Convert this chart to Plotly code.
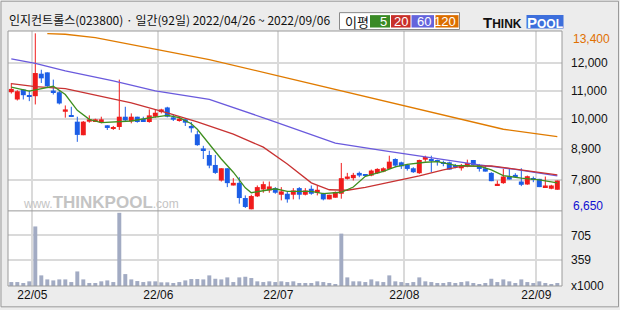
import plotly.graph_objects as go

# ---------------- data ----------------
day_index = list(range(92))
opens = [10948, 10686, 11044, 10829, 10805, 11616, 11664, 11008, 10948, 10244,
         10113, 9886, 9397, 9886, 9910, 9850, 9755, 9624, 9695, 10065,
         9898, 10065, 9994, 9874, 10065, 10232, 10399, 10041, 9910, 9970,
         9731, 9433, 8920, 8683, 8325, 7764, 8206, 7585, 7681, 7132,
         6726, 7192, 7442, 7406, 7490, 7251, 7287, 7251, 7490, 7251,
         7466, 7323, 7287, 7084, 7144, 7287, 7824, 7848, 8039, 7967,
         7943, 8027, 8086, 8182, 8540, 8420, 8325, 8206, 8027, 8516,
         8540, 8480, 8420, 8420, 8325, 8206, 8277, 8504, 8325, 8206,
         8039, 7585, 7669, 7907, 7967, 7728, 7621, 7848, 7824, 7514,
         7467, 7431]
highs = [11282, 11020, 11056, 11008, 13072, 11759, 11664, 11402, 11020, 10471,
         10423, 10065, 9910, 10113, 9994, 10065, 9755, 9731, 11402, 10423,
         10185, 10065, 10065, 10328, 10328, 10352, 10423, 10161, 10065, 9994,
         9874, 9552, 9015, 8838, 8683, 8206, 8206, 7848, 7884, 7227,
         7251, 7585, 7728, 7728, 7526, 7526, 7371, 7490, 7526, 7490,
         7585, 7585, 7323, 7251, 7371, 8397, 8039, 8039, 8086, 7967,
         8158, 8206, 8242, 8659, 8564, 8444, 8361, 8242, 8516, 8659,
         8659, 8516, 8480, 8444, 8361, 8361, 8516, 8504, 8361, 8301,
         8063, 7764, 8182, 8182, 8027, 8206, 7943, 7907, 7824, 7907,
         7610, 7763]
lows = [10900, 10650, 10686, 10626, 10507, 11282, 11139, 10865, 10507, 10030,
        10053, 9159, 9397, 9850, 9874, 9827, 9588, 9588, 9588, 9910,
        9827, 9850, 9874, 9850, 10030, 10185, 10041, 9910, 9886, 9731,
        9493, 9015, 8540, 8206, 8003, 7728, 7526, 7585, 6929, 6774,
        6726, 7168, 7323, 7323, 7287, 7048, 6965, 7084, 7084, 7227,
        7251, 7227, 7048, 7084, 7144, 7108, 7800, 7764, 7884, 7919,
        7919, 8003, 8063, 8182, 8242, 8182, 8122, 8039, 8003, 8444,
        8063, 8301, 8277, 8158, 8206, 8122, 8242, 8301, 8086, 8086,
        7740, 7585, 7645, 7800, 7884, 7561, 7609, 7704, 7526, 7514,
        7450, 7431]
closes = [11067, 10984, 10841, 10793, 11640, 11449, 11163, 10948, 10543, 10328,
          10077, 9409, 9886, 9970, 9970, 9970, 9660, 9684, 10065, 9934,
          10065, 9874, 9874, 10113, 10208, 10328, 10065, 9958, 9994, 9850,
          9648, 9039, 8855, 8301, 8039, 8206, 7669, 7681, 7132, 6810,
          7204, 7526, 7633, 7550, 7323, 7371, 7084, 7406, 7251, 7406,
          7287, 7430, 7084, 7251, 7347, 7848, 7907, 7967, 7943, 7943,
          8122, 8182, 8206, 8444, 8301, 8277, 8182, 8063, 8504, 8611,
          8480, 8444, 8372, 8158, 8242, 8325, 8397, 8325, 8182, 8086,
          7740, 7645, 7907, 7800, 7907, 7609, 7919, 7800, 7526, 7585,
          7585, 7763]
volumes = [55, 55, 42, 65, 830, 148, 92, 78, 92, 92,
           55, 203, 92, 42, 42, 65, 78, 55, 1020, 166,
           92, 69, 55, 65, 65, 51, 51, 42, 55, 78,
           97, 97, 92, 148, 101, 92, 120, 55, 120, 129,
           111, 65, 55, 65, 55, 65, 55, 65, 42, 42,
           42, 65, 55, 42, 28, 730, 120, 65, 65, 55,
           92, 65, 55, 148, 65, 55, 42, 55, 120, 65,
           55, 42, 42, 55, 42, 55, 65, 42, 28, 42,
           101, 55, 92, 65, 42, 92, 55, 42, 65, 42,
           28, 42]

ma5_idx = [0, 3, 7, 9, 11, 13, 15, 20, 23, 26, 28, 30, 31, 33, 35, 37, 39, 40, 42, 44,
           46, 50, 52, 55, 57, 59, 62, 64, 66, 69, 71, 74, 78, 80, 82, 85, 88, 91]
ma5_val = [11134, 10991, 11163, 10866, 10293, 9971, 9853, 9910, 10025, 10114,
           10032, 9810, 9613, 9077, 8540, 8064, 7502, 7324, 7384, 7467,
           7370, 7370, 7288, 7341, 7528, 7914, 8093, 8254, 8343, 8422,
           8443, 8307, 8279, 8146, 7942, 7850, 7789, 7681]
ma20_idx = [0, 4, 9, 15, 20, 26, 31, 37, 42, 46, 50, 53, 56, 59, 64, 68, 72, 75, 80, 84, 91]
ma20_val = [11259, 11152, 11080, 10794, 10562, 10204, 9882, 9435, 8969, 8361,
            7681, 7431, 7413, 7520, 7735, 7932, 8146, 8272, 8290, 8182, 7968]
ma60_idx = [0, 4, 9, 17, 24, 33, 43, 54, 62, 70, 78, 84, 91]
ma60_val = [12154, 11989, 11717, 11360, 10998, 10687, 9953, 9113, 8844, 8576, 8325, 8164, 7932]
ma120_idx = [6, 9, 14, 21, 33, 45, 55, 65, 75, 82, 91]
ma120_val = [13063, 13038, 12920, 12637, 12125, 11510, 10995, 10479, 9971, 9613, 9345]

month_ticks = [3.5, 24.5, 44.5, 65.5, 87.5]
month_labels = ["22/05", "22/06", "22/07", "22/08", "22/09"]
price_ticks = [12000, 11000, 10000, 8900, 7800]
price_labels = ["12,000", "11,000", "10,000", "8,900", "7,800"]
vol_ticks = [0, 359, 705]
vol_labels = ["x1000", "359", "705"]
price_max_label = "13,400"
price_min_label = "6,650"
title_text = "인지컨트롤스(023800) · 일간(92일) 2022/04/26 ~ 2022/09/06"
legend_title = "이평"
legend_items = ["5", "20", "60", "120"]

# ---------------- styles ----------------
W, H = 620, 310
ML, MR, MT, MB = 8, 58, 31, 22
PW, PH = W - ML - MR, H - MT - MB
VOL_TOP = 0.2946

UP = "#f01c1c"
DOWN = "#1c5ee6"
MA_COLORS = ["#3f8f1f", "#c83232", "#6a5add", "#e07b00"]
LEG_COLORS = ["#3a8a26", "#c8302a", "#6464dc", "#dc6e00"]
GRID = "#dadada"
FONT_NUM = "Liberation Sans"
FONT_KR = "Noto Sans CJK KR"


def px(xp):
    return (xp - ML) / PW


def py(yp):
    return (H - MB - yp) / PH


up_i = [i for i in day_index if closes[i] >= opens[i]]
dn_i = [i for i in day_index if closes[i] < opens[i]]

fig = go.Figure()


def add_candles(idx, color):
    fig.add_trace(go.Bar(
        x=idx,
        base=[min(opens[i], closes[i]) for i in idx],
        y=[max(abs(closes[i] - opens[i]), 30) for i in idx],
        width=0.83, marker=dict(color=color, line=dict(width=0)),
        yaxis="y", xaxis="x", hoverinfo="skip", showlegend=False))
    wx, wy = [], []
    for i in idx:
        wx += [i, i, None]
        wy += [lows[i], highs[i], None]
    fig.add_trace(go.Scatter(x=wx, y=wy, mode="lines",
                             line=dict(color=color, width=1),
                             yaxis="y", xaxis="x", hoverinfo="skip", showlegend=False))


add_candles(up_i, UP)
add_candles(dn_i, DOWN)

for (ix, vv), col in zip([(ma120_idx, ma120_val), (ma60_idx, ma60_val),
                          (ma20_idx, ma20_val), (ma5_idx, ma5_val)],
                         [MA_COLORS[3], MA_COLORS[2], MA_COLORS[1], MA_COLORS[0]]):
    fig.add_trace(go.Scatter(x=ix, y=vv, mode="lines",
                             line=dict(color=col, width=1.3),
                             yaxis="y", xaxis="x", hoverinfo="skip", showlegend=False))

fig.add_trace(go.Bar(x=day_index, y=volumes, width=0.66,
                     marker=dict(color="#a2abc3", line=dict(width=0)),
                     yaxis="y2", xaxis="x", hoverinfo="skip", showlegend=False))

shapes = [
    # outer frame
    dict(type="rect", xref="paper", yref="paper", x0=px(1), x1=px(618.5), y0=py(309), y1=py(1),
         line=dict(color="#9a9a9a", width=1)),
    # plot border
    dict(type="rect", xref="paper", yref="paper", x0=0, x1=1, y0=0, y1=1,
         line=dict(color="#9a9a9a", width=1)),
    dict(type="line", xref="paper", yref="paper", x0=0, x1=1, y0=VOL_TOP, y1=VOL_TOP,
         line=dict(color="#9a9a9a", width=1)),
    # legend box
    dict(type="rect", xref="paper", yref="paper", x0=px(339.5), x1=px(459.5), y0=py(29.5), y1=py(12.5),
         line=dict(color="#8a8a8a", width=1), fillcolor="white"),
]
leg_x = [(370, 390), (391, 410.5), (411.5, 434), (435.5, 458.5)]
annotations = []
for (a, b), c, t in zip(leg_x, LEG_COLORS, legend_items):
    shapes.append(dict(type="rect", xref="paper", yref="paper", x0=px(a), x1=px(b),
                       y0=py(27.5), y1=py(15), line=dict(width=0), fillcolor=c))
    annotations.append(dict(xref="paper", yref="paper", x=px(b - 1), y=py(21.5),
                            xanchor="right", yanchor="middle", text=t, showarrow=False,
                            font=dict(family=FONT_NUM, size=13, color="white")))
# POOL logo box
shapes.append(dict(type="rect", xref="paper", yref="paper", x0=px(526.5), x1=px(563.5),
                   y0=py(28.5), y1=py(15), line=dict(width=0), fillcolor="#3d6fdc"))

annotations += [
    dict(xref="paper", yref="paper", x=px(7), y=py(19.5), xanchor="left", yanchor="middle",
         text=title_text, showarrow=False, font=dict(family=FONT_KR, size=12, color="#111")),
    dict(xref="paper", yref="paper", x=px(343), y=py(21), xanchor="left", yanchor="middle",
         text=legend_title, showarrow=False, font=dict(family=FONT_KR, size=13, color="#111")),
    dict(xref="paper", yref="paper", x=px(481), y=py(22), xanchor="left", yanchor="middle",
         text="<b>T<span style='font-size:12px'>HINK</span></b>", showarrow=False,
         font=dict(family="Liberation Sans", size=15, color="#111")),
    dict(xref="paper", yref="paper", x=px(545), y=py(22), xanchor="center", yanchor="middle",
         text="<b>P<span style='font-size:12px'>OOL</span></b>", showarrow=False,
         font=dict(family="Liberation Sans", size=15, color="white")),
    dict(xref="paper", yref="paper", x=px(21), y=py(204), xanchor="left", yanchor="middle",
         text="<span style='font-size:12px'>www.</span><b>THINKPOOL</b><span style='font-size:12px'>.com</span>",
         showarrow=False, font=dict(family="Liberation Sans", size=17, color="#c4c4c4")),
    dict(xref="paper", yref="paper", x=px(571), y=py(39), xanchor="left", yanchor="middle",
         text=price_max_label, showarrow=False, font=dict(family=FONT_NUM, size=12, color="#e07000")),
    dict(xref="paper", yref="paper", x=px(571), y=py(207), xanchor="left", yanchor="middle",
         text=price_min_label, showarrow=False, font=dict(family=FONT_NUM, size=12, color="#1010d0")),
]

fig.update_layout(
    width=W, height=H,
    margin=dict(l=ML, r=MR, t=MT, b=MB, pad=0),
    paper_bgcolor="#ececec", plot_bgcolor="white",
    barmode="overlay", showlegend=False,
    xaxis=dict(range=[-0.55, 91.78], tickmode="array", tickvals=month_ticks, ticktext=month_labels,
               showgrid=True, gridcolor=GRID, gridwidth=1.5, zeroline=False, showline=False,
               anchor="y2", ticks="", tickfont=dict(family=FONT_NUM, size=12, color="#111")),
    yaxis=dict(domain=[VOL_TOP, 1], range=[6669, 13156], side="right", anchor="x",
               tickmode="array", tickvals=price_ticks, ticktext=price_labels,
               showgrid=True, gridcolor=GRID, gridwidth=1.5, zeroline=False, showline=False,
               ticks="", ticklabelstandoff=8,
               tickfont=dict(family=FONT_NUM, size=12, color="#111")),
    yaxis2=dict(domain=[0, VOL_TOP], range=[0, 1047], side="right", anchor="x",
                tickmode="array", tickvals=vol_ticks, ticktext=vol_labels,
                showgrid=True, gridcolor=GRID, gridwidth=1.5, zeroline=False, showline=False,
                ticks="", ticklabelstandoff=8,
                tickfont=dict(family=FONT_NUM, size=12, color="#111")),
    shapes=shapes, annotations=annotations,
)

fig.write_html("out.html")
